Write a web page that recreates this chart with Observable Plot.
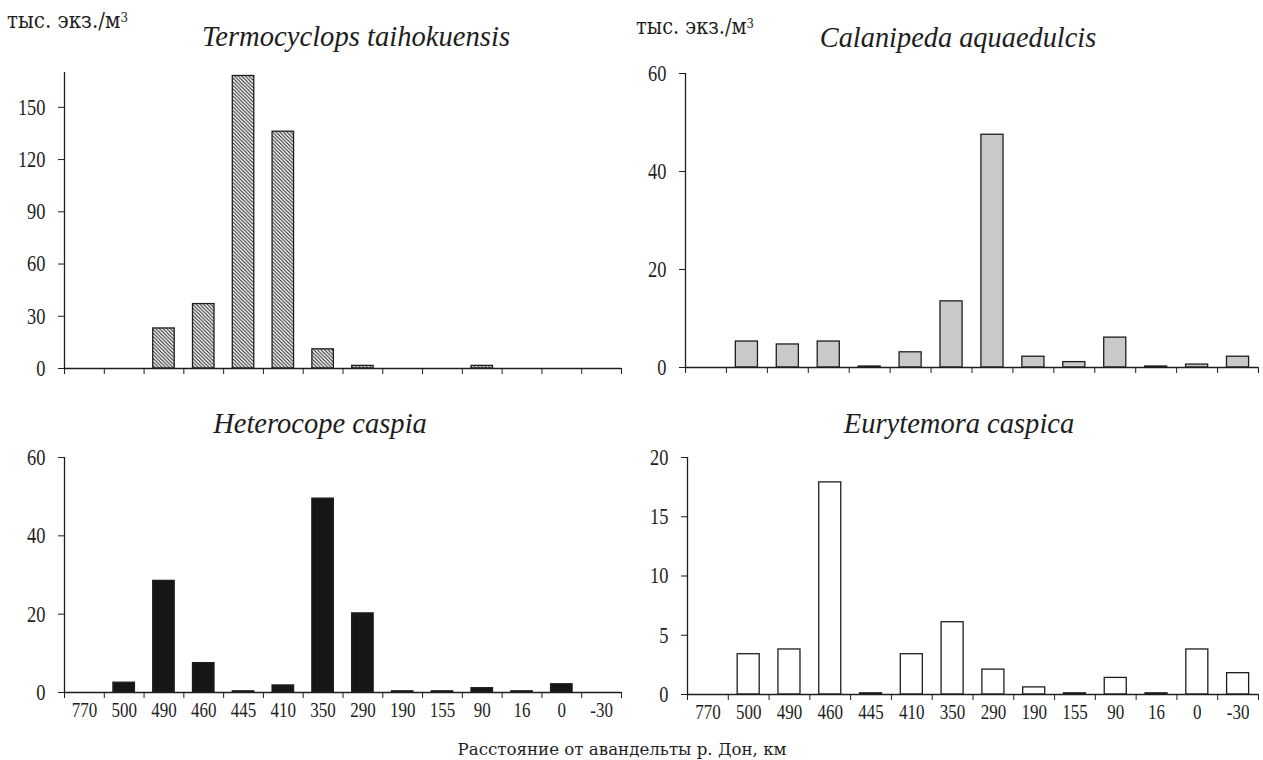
<!DOCTYPE html>
<html>
<head>
<meta charset="utf-8">
<script src="https://cdn.jsdelivr.net/npm/d3@7"></script>
<script src="https://cdn.jsdelivr.net/npm/@observablehq/plot@0.6"></script>
<style>
  body { margin: 0; background: #fff; font-family: "Liberation Serif", "Times New Roman", serif; color: #1e1e1e; }
  #wrap { position: relative; width: 1263px; height: 760px; overflow: hidden; background: #fff; }
  .txt { position: absolute; line-height: 1; white-space: nowrap; }
  .title { font-style: italic; font-family: "Liberation Serif", serif; }
  .unit, .xtitle { font-family: "DejaVu Serif", serif; }
  .unit sup { font-size: 60%; vertical-align: 0.45em; line-height: 0; }
</style>
</head>
<body>
<div id="wrap"></div>
<script>
// ---- data ----
const categories = ["770", "500", "490", "460", "445", "410", "350", "290", "190", "155", "90", "16", "0", "-30"];
const termocyclops = [0, 0, 23, 37, 168, 136, 11, 1.5, 0, 0, 1.5, 0, 0, 0];
const calanipeda = [0, 5.3, 4.7, 5.3, 0.2, 3.1, 13.5, 47.5, 2.2, 1.1, 6.1, 0.2, 0.6, 2.2];
const heterocope = [0, 2.5, 28.5, 7.5, 0.3, 1.8, 49.5, 20.2, 0.3, 0.3, 1.1, 0.3, 2.1, 0];
const eurytemora = [0, 3.4, 3.8, 17.9, 0.1, 3.4, 6.1, 2.1, 0.6, 0.1, 1.4, 0.1, 3.8, 1.8];
const ticksTermo = [0, 30, 60, 90, 120, 150];
const ticksCalan = [0, 20, 40, 60];
const ticksHetero = [0, 20, 40, 60];
const ticksEury = [0, 5, 10, 15, 20];
const titles = ["Termocyclops taihokuensis", "Calanipeda aquaedulcis", "Heterocope caspia", "Eurytemora caspica"];
const unitLabel = "тыс. экз./м";
const xTitle = "Расстояние от авандельты р. Дон, км";

const FONT = '"Liberation Serif", "Times New Roman", serif';
const INK = "#1e1e1e";
const wrap = document.getElementById("wrap");

// text placed as HTML, fitted to the reference width
function addText(cls, html, x, y, fontSize, targetW, centered) {
  const d = document.createElement("div");
  d.className = "txt " + cls;
  d.innerHTML = html;
  d.style.fontSize = fontSize + "px";
  d.style.left = x + "px";
  d.style.top = y + "px";
  wrap.appendChild(d);
  const w = d.offsetWidth;
  const s = targetW / w;
  if (centered) {
    d.style.transform = `translate(-50%, -50%) scaleX(${s})`;
  } else {
    d.style.transformOrigin = "0 50%";
    d.style.transform = `translateY(-50%) scaleX(${s})`;
  }
}

// tick labels: serif, tall and condensed like the reference typeface
function styleTick(t, size, sx) {
  t.setAttribute("font-family", FONT);
  t.setAttribute("font-size", size);
  t.style.fontFamily = FONT;
  t.style.fontSize = size + "px";
  const tr = t.getAttribute("transform") || "";
  const x = +(t.getAttribute("x") || 0);
  t.setAttribute("transform", `${tr} translate(${x},0) scale(${sx},1) translate(${-x},0)`);
}

function panel(cfg) {
  const {values, fill, yDomain, yTicks, left, top, width, height, ml, mr, mt, mb, labels} = cfg;
  const data = categories.map((c, i) => ({cat: c, v: values[i]}));
  const step = (width - ml - mr) / categories.length;
  const marks = [
    Plot.barY(data, {x: "cat", y: "v", fill, stroke: INK, strokeWidth: 1.3}),
    Plot.ruleY([0], {stroke: INK, strokeWidth: 1.3}),
    Plot.ruleX([categories[0]], {dx: -step / 2, stroke: INK, strokeWidth: 1.3}),
    Plot.axisY({ticks: yTicks, tickSize: 6, tickPadding: 13, label: null, stroke: INK, fill: INK}),
    Plot.axisX({tickSize: 6, tickFormat: () => "", dx: -step / 2, label: null, stroke: INK}),
    Plot.axisX([categories[categories.length - 1]], {tickSize: 6, tickFormat: () => "", dx: step / 2, label: null, stroke: INK})
  ];
  if (labels) marks.push(Plot.axisX({tickSize: 0, tickPadding: 10, label: null, fill: INK}));
  const svg = Plot.plot({
    width, height,
    marginLeft: ml, marginRight: mr, marginTop: mt, marginBottom: mb,
    style: {fontFamily: FONT, fontSize: "18px", color: INK, background: "transparent", overflow: "visible"},
    x: {type: "band", domain: categories, paddingInner: 0.46, paddingOuter: 0.23, round: false, axis: null},
    y: {domain: yDomain, axis: null},
    marks
  });
  // hatch pattern definition
  const ns = "http://www.w3.org/2000/svg";
  const defs = document.createElementNS(ns, "defs");
  const pat = document.createElementNS(ns, "pattern");
  pat.setAttribute("id", "hatch");
  pat.setAttribute("patternUnits", "userSpaceOnUse");
  pat.setAttribute("width", "3.6");
  pat.setAttribute("height", "3.6");
  const bg = document.createElementNS(ns, "rect");
  bg.setAttribute("width", "3.6"); bg.setAttribute("height", "3.6"); bg.setAttribute("fill", "#fff");
  const p = document.createElementNS(ns, "path");
  p.setAttribute("d", "M-1,-1L4.6,4.6M2.6,-1L4.6,1M-1,2.6L1,4.6");
  p.setAttribute("stroke", "#222");
  p.setAttribute("stroke-width", "1.1");
  pat.appendChild(bg); pat.appendChild(p);
  defs.appendChild(pat);
  svg.insertBefore(defs, svg.firstChild);
  svg.style.left = left + "px";
  svg.style.top = top + "px";
  svg.style.position = "absolute";
  wrap.appendChild(svg);
  svg.querySelectorAll('g[aria-label="y-axis tick label"] text').forEach(t => styleTick(t, 23, 0.8));
  svg.querySelectorAll('g[aria-label="x-axis tick label"] text').forEach(t => {
    if (t.textContent) styleTick(t, 20, 0.85);
  });
}

panel({values: termocyclops, fill: "url(#hatch)", yDomain: [0, 170], yTicks: ticksTermo,
  left: 0, top: 0, width: 630, height: 390, ml: 64, mr: 9, mt: 72, mb: 22, labels: false});
panel({values: calanipeda, fill: "#c9c9c9", yDomain: [0, 60], yTicks: ticksCalan,
  left: 630, top: 0, width: 633, height: 390, ml: 55, mr: 5, mt: 73, mb: 23, labels: false});
panel({values: heterocope, fill: "#161616", yDomain: [0, 60], yTicks: ticksHetero,
  left: 0, top: 390, width: 630, height: 370, ml: 64, mr: 9, mt: 67, mb: 68, labels: true});
panel({values: eurytemora, fill: "#ffffff", yDomain: [0, 20], yTicks: ticksEury,
  left: 630, top: 390, width: 633, height: 370, ml: 57, mr: 5, mt: 67, mb: 66, labels: true});

addText("title", titles[0], 356, 36, 30, 308, true);
addText("title", titles[1], 958, 37, 30, 276, true);
addText("title", titles[2], 320, 423, 30, 214, true);
addText("title", titles[3], 959, 423, 30, 230, true);
addText("unit", unitLabel + "<sup>3</sup>", 7, 21, 22, 121, false);
addText("unit", unitLabel + "<sup>3</sup>", 636, 27, 22, 118, false);
addText("xtitle", xTitle, 622, 749, 17, 329, true);
</script>
</body>
</html>
